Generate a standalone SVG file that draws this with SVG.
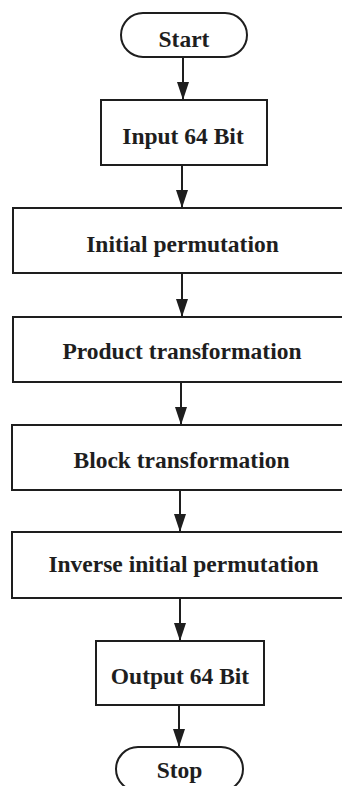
<svg xmlns="http://www.w3.org/2000/svg" width="342" height="786" viewBox="0 0 342 786">
  <defs>
    <marker id="arrow" markerUnits="userSpaceOnUse" markerWidth="18" markerHeight="12" viewBox="0 0 18 12" refX="18" refY="6" orient="auto">
      <path d="M0,0 L18,6 L0,12 Z" fill="#1e1e1e"/>
    </marker>
    <style>
      .box { fill: #ffffff; stroke: #1e1e1e; stroke-width: 2; }
      .lbl { font-family: "Liberation Serif", "Times New Roman", serif; font-weight: bold; font-size: 23.5px; fill: #1e1e1e; text-anchor: middle; }
      .conn { stroke: #1e1e1e; stroke-width: 2; fill: none; }
    </style>
  </defs>
  <rect width="342" height="786" fill="#ffffff"/>

  <g id="start">
    <rect class="box" x="121" y="13" width="126" height="44" rx="22" ry="22"/>
    <text class="lbl" x="184" y="47">Start</text>
  </g>
  <g id="input">
    <rect class="box" x="101" y="100" width="166" height="65"/>
    <text class="lbl" x="183" y="144">Input 64 Bit</text>
  </g>
  <g id="initial-permutation">
    <rect class="box" x="13" y="208" width="340" height="65"/>
    <text class="lbl" x="182.5" y="252">Initial permutation</text>
  </g>
  <g id="product-transformation">
    <rect class="box" x="13" y="317" width="340" height="65"/>
    <text class="lbl" x="182" y="359">Product transformation</text>
  </g>
  <g id="block-transformation">
    <rect class="box" x="12" y="425" width="340" height="65"/>
    <text class="lbl" x="181.5" y="468">Block transformation</text>
  </g>
  <g id="inverse-initial-permutation">
    <rect class="box" x="12" y="532" width="340" height="66"/>
    <text class="lbl" x="183.5" y="572">Inverse initial permutation</text>
  </g>
  <g id="output">
    <rect class="box" x="96" y="641" width="168" height="64"/>
    <text class="lbl" x="180" y="684">Output 64 Bit</text>
  </g>
  <g id="stop">
    <rect class="box" x="116" y="747" width="127" height="44" rx="22" ry="22"/>
    <text class="lbl" x="179.5" y="778">Stop</text>
  </g>

  <g id="connectors">
    <line class="conn" x1="183" y1="57" x2="183" y2="100" marker-end="url(#arrow)"/>
    <line class="conn" x1="182" y1="165" x2="182" y2="208" marker-end="url(#arrow)"/>
    <line class="conn" x1="182" y1="273" x2="182" y2="317" marker-end="url(#arrow)"/>
    <line class="conn" x1="181" y1="382" x2="181" y2="425" marker-end="url(#arrow)"/>
    <line class="conn" x1="180" y1="490" x2="180" y2="532" marker-end="url(#arrow)"/>
    <line class="conn" x1="180" y1="598" x2="180" y2="641" marker-end="url(#arrow)"/>
    <line class="conn" x1="179" y1="705" x2="179" y2="747" marker-end="url(#arrow)"/>
  </g>
</svg>
